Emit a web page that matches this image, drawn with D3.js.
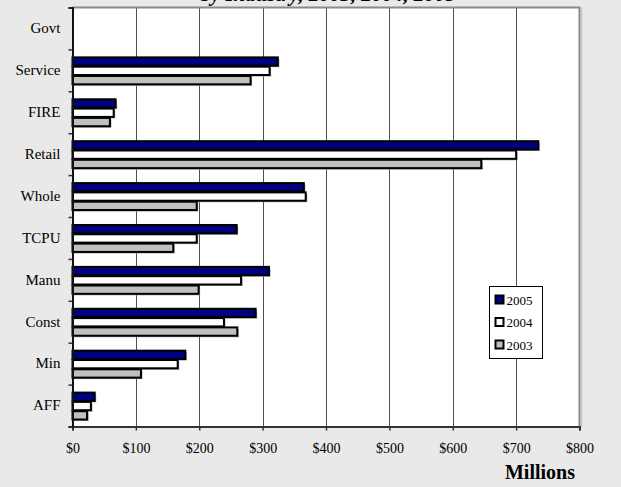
<!DOCTYPE html>
<html>
<head>
<meta charset="utf-8">
<script src="https://cdn.jsdelivr.net/npm/d3@7"></script>
<style>
  html, body { margin: 0; padding: 0; background: #e9e9e9; }
  svg { display: block; }
  text { font-family: "Liberation Serif", "Times New Roman", serif; fill: #000; }
</style>
</head>
<body>
<svg id="chart" width="621" height="487"></svg>
<script>
// ---- data ----
const categories = ["Govt", "Service", "FIRE", "Retail", "Whole", "TCPU", "Manu", "Const", "Min", "AFF"];
const seriesNames = ["2005", "2004", "2003"];
const values2005 = [0, 324, 68, 735, 365, 259, 310, 289, 178, 35];
const values2004 = [0, 311, 65, 700, 368, 196, 266, 239, 166, 29];
const values2003 = [0, 281, 59, 645, 196, 159, 199, 260, 108, 23];
const seriesColors = ["#000080", "#ffffff", "#c0c0c0"];
const xTicks = [0, 100, 200, 300, 400, 500, 600, 700, 800];
const titleText = "by Industry, 2003, 2004, 2005";
const axisTitle = "Millions";

const seriesValues = [values2005, values2004, values2003];

const svg = d3.select("#chart");
const L = 72.5, R = 579.5, T = 7.5, B = 426.5;

const x = d3.scaleLinear().domain([0, 800]).range([L, R]);
const y = d3.scaleBand().domain(categories).range([T, B]).padding(0);
const bw = y.bandwidth();
const inner = d3.scaleBand().domain(seriesNames).range([bw / 6, bw * 5 / 6]).padding(0);

// title (mostly clipped at top, as in the reference)
svg.append("text")
  .attr("x", 328).attr("y", 0.5)
  .attr("text-anchor", "middle")
  .style("font-size", "21px").style("font-weight", "bold").style("font-style", "italic")
  .text(titleText);

// plot area
svg.append("rect")
  .attr("x", L).attr("y", T).attr("width", R - L).attr("height", B - T)
  .attr("fill", "#ffffff");

// gridlines
svg.append("g").selectAll("line")
  .data(xTicks.slice(1, -1)).join("line")
  .attr("x1", d => Math.round(x(d)) + 0.5).attr("x2", d => Math.round(x(d)) + 0.5)
  .attr("y1", T).attr("y2", B)
  .attr("stroke", "#505050").attr("stroke-width", 1);

// border (top/right gray)
svg.append("path")
  .attr("d", `M${L},${T}H${R}V${B}`)
  .attr("fill", "none").attr("stroke", "#8a8a8a").attr("stroke-width", 2);
svg.append("line")
  .attr("x1", R + 2).attr("x2", R + 2).attr("y1", T).attr("y2", B)
  .attr("stroke", "#c8c8c8").attr("stroke-width", 1.5);

// bars
const barH = inner.bandwidth();
categories.forEach((c, ci) => {
  seriesNames.forEach((s, si) => {
    const v = seriesValues[si][ci];
    if (v <= 0) return;
    const y0 = y(c) + inner(s) + 1;
    const w = x(v) - x(0);
    svg.append("rect")
      .attr("x", x(0) + 1.5).attr("y", y0 + 1.5)
      .attr("width", w).attr("height", barH - 1)
      .attr("fill", "#9a9a9a");
  });
  seriesNames.forEach((s, si) => {
    const v = seriesValues[si][ci];
    if (v <= 0) return;
    const y0 = y(c) + inner(s) + 1;
    const w = x(v) - x(0);
    svg.append("rect")
      .attr("x", x(0)).attr("y", y0)
      .attr("width", w).attr("height", barH - 1)
      .attr("fill", seriesColors[si])
      .attr("stroke", "#000").attr("stroke-width", 2);
  });
});

// x axis
const xAxis = svg.append("g")
  .attr("transform", `translate(0,${B})`)
  .call(d3.axisBottom(x).tickValues(xTicks).tickFormat(d => "$" + d).tickSize(4).tickPadding(13));
xAxis.select(".domain").attr("stroke", "#333").attr("stroke-width", 2);
xAxis.selectAll(".tick line").attr("stroke", "#333").attr("stroke-width", 1.5);
xAxis.selectAll(".tick text")
  .style("font-family", "'Liberation Serif', serif").style("font-size", "14px");

// y axis labels
const yAxis = svg.append("g")
  .attr("transform", `translate(${L},0)`)
  .call(d3.axisLeft(y).tickSize(0).tickPadding(12));
yAxis.select(".domain").remove();
yAxis.selectAll(".tick text")
  .style("font-family", "'Liberation Serif', serif").style("font-size", "15px");

// y axis boundary ticks
const yb = d3.scaleLinear().domain([0, categories.length]).range([T, B]);
const yTicks = svg.append("g")
  .attr("transform", `translate(${L},0)`)
  .call(d3.axisLeft(yb).tickValues(d3.range(categories.length + 1)).tickFormat("").tickSize(4));
yTicks.select(".domain").attr("stroke", "#111").attr("stroke-width", 2);
yTicks.selectAll(".tick line").attr("stroke", "#333").attr("stroke-width", 1.5);

// axis title
svg.append("text")
  .attr("x", 540).attr("y", 479)
  .attr("text-anchor", "middle")
  .style("font-size", "20px").style("font-weight", "bold")
  .text(axisTitle);

// legend
const lg = svg.append("g").attr("transform", "translate(489.5,286.5)");
lg.append("rect").attr("width", 53).attr("height", 72)
  .attr("fill", "#fff").attr("stroke", "#000").attr("stroke-width", 1);
seriesNames.forEach((s, i) => {
  const row = lg.append("g").attr("transform", `translate(6,${9 + i * 22.5})`);
  row.append("rect").attr("width", 8).attr("height", 8)
    .attr("fill", seriesColors[i]).attr("stroke", "#000").attr("stroke-width", 2);
  row.append("text").attr("x", 11).attr("y", 9)
    .style("font-size", "13px").text(s);
});
</script>
</body>
</html>
